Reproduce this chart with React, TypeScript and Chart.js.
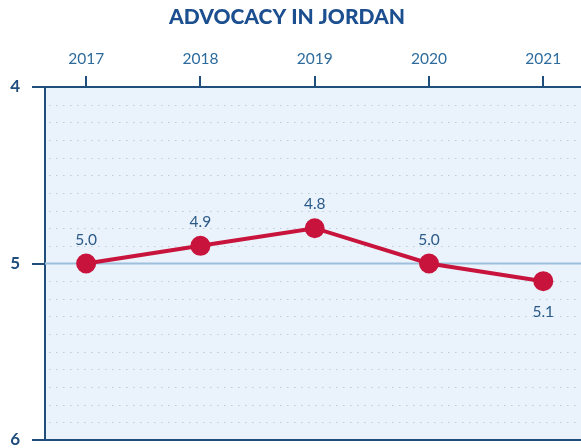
import React, { useEffect, useRef } from "react";
import { Chart, registerables } from "chart.js";

Chart.register(...registerables);

const TITLE = "ADVOCACY IN JORDAN";
const YEARS = [2017, 2018, 2019, 2020, 2021];
const SCORES = [5.0, 4.9, 4.8, 5.0, 5.1];
const Y_TICKS = [4, 5, 6];

const DARK = "#1f4e7d";
const TICK_TEXT = "#2d6b9c";
const LABEL_TEXT = "#2b5a88";
const RED = "#c8143c";
const BG = "#eaf2fb";
const FONT = "Lato, 'Open Sans', sans-serif";

export default function App() {
  const ref = useRef<HTMLCanvasElement | null>(null);

  useEffect(() => {
    if (!ref.current) return;
    const maxVal = Math.max(...SCORES);

    const decor = {
      id: "decor",
      beforeDraw(chart: any) {
        const { ctx, chartArea: a } = chart;
        ctx.save();
        ctx.fillStyle = BG;
        ctx.fillRect(a.left, a.top, a.right - a.left, a.bottom - a.top);
        ctx.restore();
      },
      beforeDatasetsDraw(chart: any) {
        const { ctx, chartArea: a } = chart;
        const y = chart.scales.y;
        ctx.save();
        ctx.strokeStyle = "#b9cbdc";
        ctx.lineWidth = 1;
        ctx.setLineDash([1.5, 5.5]);
        for (let i = 1; i < 20; i++) {
          if (i === 10) continue;
          const py = Math.round(y.getPixelForValue(4 + i / 10)) + 0.5;
          ctx.beginPath();
          ctx.moveTo(a.left + 4, py);
          ctx.lineTo(a.right, py);
          ctx.stroke();
        }
        ctx.setLineDash([]);
        ctx.strokeStyle = "#9dbfdc";
        ctx.lineWidth = 2;
        const p5 = y.getPixelForValue(5);
        ctx.beginPath();
        ctx.moveTo(a.left, p5);
        ctx.lineTo(a.right, p5);
        ctx.stroke();
        // bottom border
        ctx.strokeStyle = DARK;
        ctx.lineWidth = 2;
        ctx.beginPath();
        ctx.moveTo(a.left, a.bottom);
        ctx.lineTo(a.right, a.bottom);
        ctx.stroke();
        ctx.restore();
      },
      afterDraw(chart: any) {
        const { ctx } = chart;
        ctx.save();
        ctx.fillStyle = "#1c4f8f";
        ctx.font = `900 21px ${FONT}`;
        ctx.textAlign = "center";
        ctx.textBaseline = "middle";
        ctx.fillText(TITLE, 287, 17);
        // data labels
        const meta = chart.getDatasetMeta(0);
        ctx.fillStyle = LABEL_TEXT;
        ctx.font = `15.5px ${FONT}`;
        meta.data.forEach((pt: any, i: number) => {
          const v = SCORES[i];
          const below = v === maxVal;
          ctx.fillText(v.toFixed(1), pt.x, below ? pt.y + 31 : pt.y - 24);
        });
        ctx.restore();
      },
    };

    const chart = new Chart(ref.current, {
      type: "line",
      data: {
        datasets: [
          {
            data: YEARS.map((yr, i) => ({ x: yr, y: SCORES[i] })),
            borderColor: RED,
            backgroundColor: RED,
            borderWidth: 4,
            pointRadius: 8,
            pointHoverRadius: 8,
            pointBackgroundColor: RED,
            pointBorderColor: RED,
            tension: 0,
            clip: false,
          },
        ],
      },
      options: {
        animation: false,
        responsive: false,
        layout: { autoPadding: false, padding: { top: 0, right: 0, bottom: 8, left: 0 } },
        plugins: {
          legend: { display: false },
          title: { display: false },
          tooltip: { enabled: false },
        },
        scales: {
          x: {
            type: "linear",
            position: "top",
            min: 2016.64,
            max: 2021.33,
            afterBuildTicks: (scale: any) => {
              scale.ticks = YEARS.map((v) => ({ value: v }));
            },
            afterFit: (scale: any) => {
              scale.height = 87;
              scale.paddingLeft = 0;
              scale.paddingRight = 0;
            },
            ticks: {
              color: TICK_TEXT,
              font: { family: FONT, size: 15.5 },
              padding: 8,
              callback: (v: any) => String(v),
              maxRotation: 0,
            },
            grid: {
              drawOnChartArea: false,
              drawTicks: true,
              tickLength: 11,
              color: DARK,
              lineWidth: 2,
            },
            border: { display: true, color: DARK, width: 2 },
          },
          y: {
            type: "linear",
            reverse: true,
            min: 4,
            max: 6,
            afterBuildTicks: (scale: any) => {
              scale.ticks = Y_TICKS.map((v) => ({ value: v }));
            },
            afterFit: (scale: any) => {
              scale.width = 45;
              scale.paddingTop = 0;
              scale.paddingBottom = 0;
            },
            ticks: {
              color: DARK,
              font: { family: FONT, size: 17, weight: "bold" },
              padding: 12,
              callback: (v: any) => String(v),
            },
            grid: {
              drawOnChartArea: false,
              drawTicks: true,
              tickLength: 13,
              color: DARK,
              lineWidth: 2,
            },
            border: { display: true, color: DARK, width: 2 },
          },
        },
      },
      plugins: [decor],
    } as any);

    return () => chart.destroy();
  }, []);

  return (
    <div style={{ position: "absolute", left: 0, top: 0, width: 581, height: 448, background: "#fff" }}>
      <canvas ref={ref} width={581} height={448} />
    </div>
  );
}
